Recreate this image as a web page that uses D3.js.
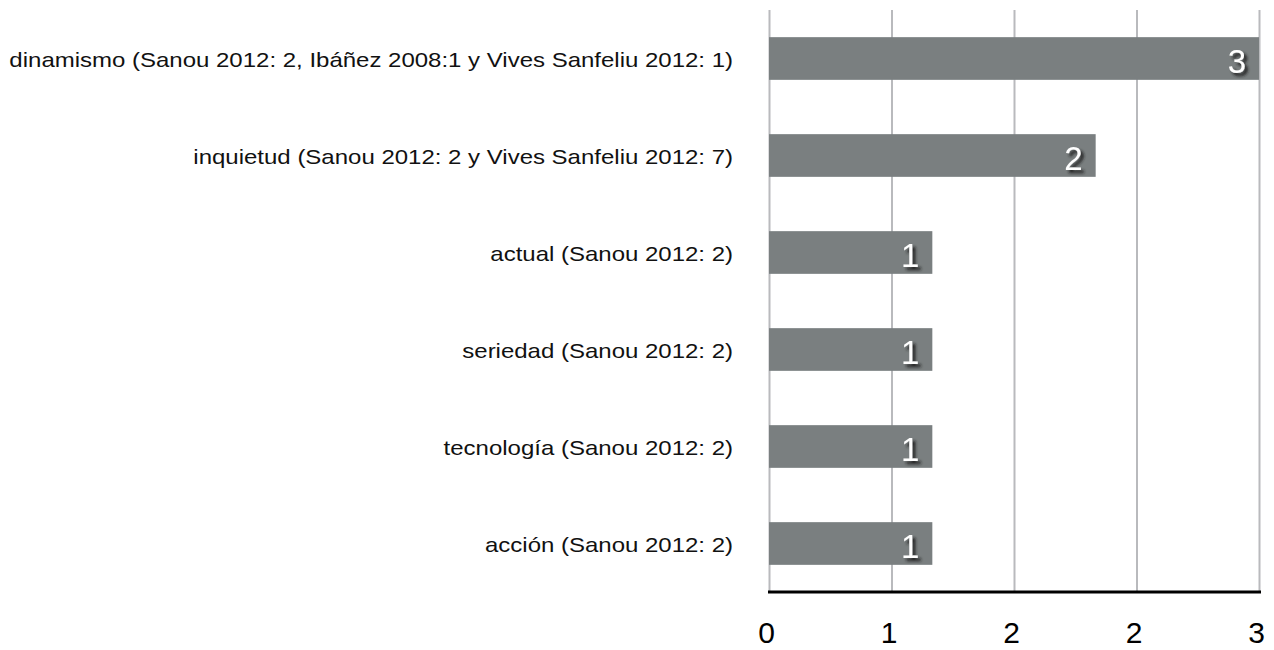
<!DOCTYPE html>
<html>
<head>
<meta charset="utf-8">
<script src="https://cdnjs.cloudflare.com/ajax/libs/d3/7.8.5/d3.min.js"></script>
<style>
  body { margin: 0; background: #fff; }
  text { font-family: "Liberation Sans", Arial, sans-serif; }
</style>
</head>
<body>
<div id="chart"></div>
<script>
// data
let categories = [
    "dinamismo (Sanou 2012: 2, Ibáñez 2008:1 y Vives Sanfeliu 2012: 1)",
    "inquietud (Sanou 2012: 2 y Vives Sanfeliu 2012: 7)",
    "actual (Sanou 2012: 2)",
    "seriedad (Sanou 2012: 2)",
    "tecnología (Sanou 2012: 2)",
    "acción (Sanou 2012: 2)"
];
let values = [3, 2, 1, 1, 1, 1];
let tickValues = [0, 0.75, 1.5, 2.25, 3];
let tickLabels = ["0", "1", "2", "2", "3"];

let width = 1274, height = 650;
let margin = {top: 10, right: 15, bottom: 58, left: 769};

let svg = d3.select("#chart").append("svg")
    .attr("width", width)
    .attr("height", height);

// drop shadow for the value labels
let filter = svg.append("defs").append("filter")
    .attr("id", "shadow")
    .attr("x", "-50%").attr("y", "-50%")
    .attr("width", "200%").attr("height", "200%");
filter.append("feDropShadow")
    .attr("dx", 3).attr("dy", 3)
    .attr("stdDeviation", 1.8)
    .attr("flood-color", "#1a1a1a")
    .attr("flood-opacity", 1);

let x = d3.scaleLinear()
    .domain([0, 3])
    .range([margin.left, width - margin.right]);

let y = d3.scaleBand()
    .domain(categories)
    .range([margin.top, height - margin.bottom])
    .paddingInner(0.56)
    .paddingOuter(0.28);

// gridlines
svg.append("g")
    .selectAll("line")
    .data(tickValues)
    .join("line")
    .attr("x1", d => x(d) + 0.5)
    .attr("x2", d => x(d) + 0.5)
    .attr("y1", margin.top)
    .attr("y2", height - margin.bottom)
    .attr("stroke", "#b9babd")
    .attr("stroke-width", 2);

// bars
svg.append("g")
    .selectAll("rect")
    .data(values)
    .join("rect")
    .attr("x", x(0))
    .attr("y", (d, i) => y(categories[i]))
    .attr("width", d => x(d) - x(0))
    .attr("height", y.bandwidth())
    .attr("fill", "#7a7f80");

// value labels
svg.append("g")
    .selectAll("text")
    .data(values)
    .join("text")
    .attr("x", d => x(d) - 13)
    .attr("y", (d, i) => y(categories[i]) + y.bandwidth() / 2 + 14)
    .attr("text-anchor", "end")
    .attr("font-size", 33)
    .attr("fill", "#fff")
    .attr("filter", "url(#shadow)")
    .text(d => d);

// x axis
let xAxis = svg.append("g")
    .attr("transform", `translate(0,${height - margin.bottom})`)
    .call(d3.axisBottom(x)
        .tickValues(tickValues)
        .tickSize(0)
        .tickPadding(30)
        .tickFormat((d, i) => tickLabels[i]));
xAxis.select(".domain")
    .attr("stroke", "#000")
    .attr("stroke-width", 3)
    .attr("d", `M${x(0) - 1},0H${x(3) + 2}`);
xAxis.selectAll("text")
    .attr("font-size", 30)
    .attr("fill", "#000")
    .attr("font-family", "Liberation Sans, Arial, sans-serif")
    .attr("dx", -3);

// category labels
svg.append("g")
    .selectAll("text")
    .data(categories)
    .join("text")
    .attr("transform", d => `translate(733,${y(d) + y.bandwidth() / 2 + 8}) scale(1.2,1)`)
    .attr("text-anchor", "end")
    .attr("font-size", 20)
    .attr("fill", "#111")
    .text(d => d);
</script>
</body>
</html>
